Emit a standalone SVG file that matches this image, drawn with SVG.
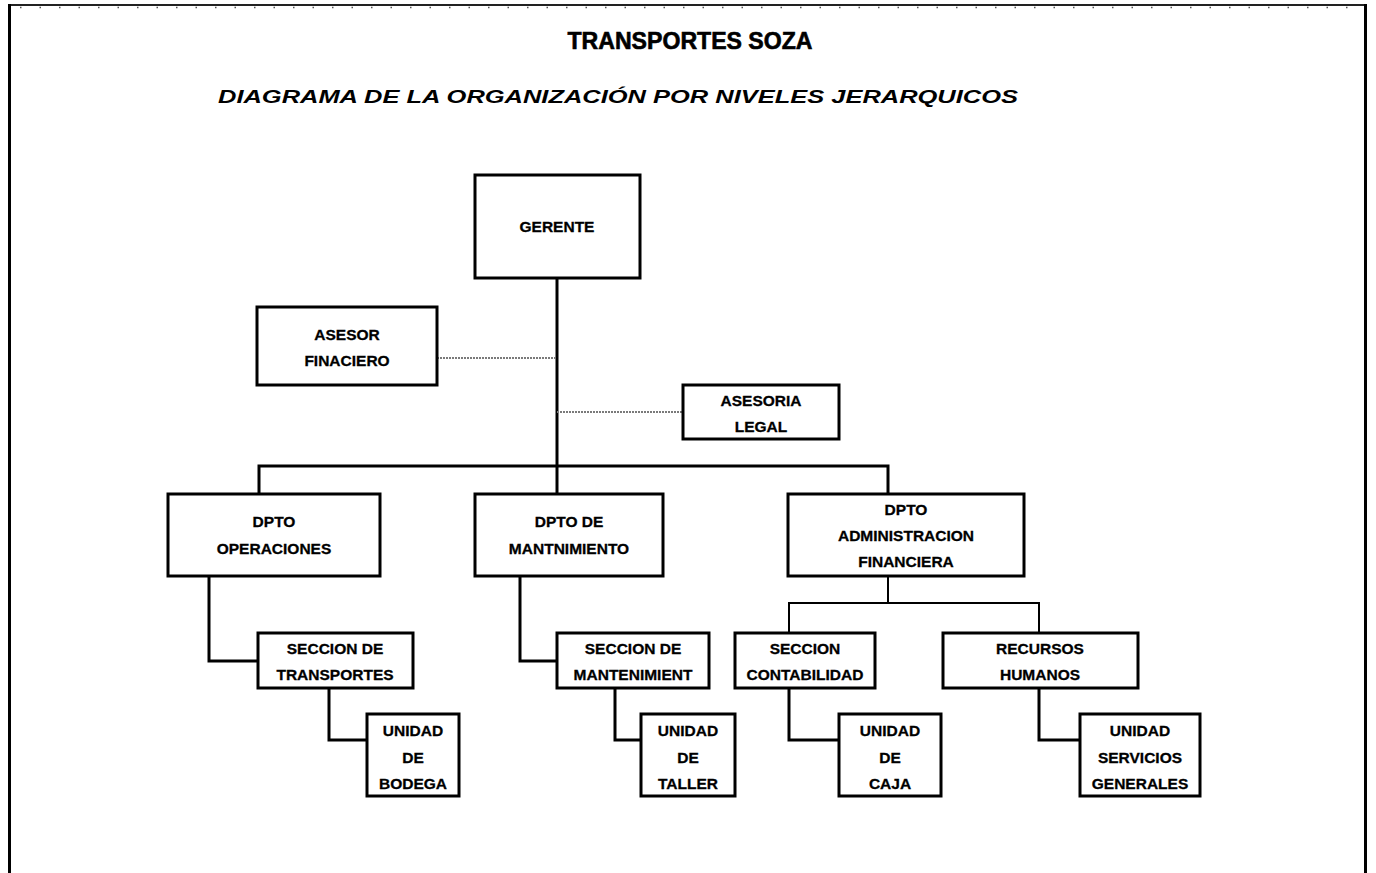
<svg xmlns="http://www.w3.org/2000/svg" width="1376" height="873" viewBox="0 0 1376 873">
<defs>
<style>
.box{fill:#fff;stroke:#000;stroke-width:3}
.t{font-family:"Liberation Sans",Arial,sans-serif;font-weight:bold;font-size:15.5px;text-anchor:middle;fill:#000;stroke:#000;stroke-width:0.3}
.c{fill:none;stroke:#000;stroke-width:3}
.c2{fill:none;stroke:#000;stroke-width:2}
.d{fill:none;stroke:#7a7a7a;stroke-width:2;stroke-dasharray:2 1}
</style>
</defs>
<rect width="1376" height="873" fill="#fff"/>
<g id="frame">
<line x1="8" y1="5" x2="1367" y2="5" stroke="#222" stroke-width="2"/>
<line x1="20" y1="7.5" x2="1350" y2="7.5" stroke="#555" stroke-width="1.5" stroke-dasharray="1.5 18"/>
<line x1="9.5" y1="4" x2="9.5" y2="873" stroke="#000" stroke-width="3"/>
<line x1="1365.5" y1="4" x2="1365.5" y2="873" stroke="#000" stroke-width="3"/>
</g>
<g id="titles">
<text x="690" y="49" font-family="'Liberation Sans',Arial,sans-serif" font-weight="bold" font-size="23" text-anchor="middle" stroke="#000" stroke-width="0.6" textLength="245" lengthAdjust="spacingAndGlyphs">TRANSPORTES SOZA</text>
<text x="618" y="103" font-family="'Liberation Sans',Arial,sans-serif" font-weight="bold" font-style="italic" font-size="17.5" text-anchor="middle" textLength="800" lengthAdjust="spacingAndGlyphs">DIAGRAMA DE LA ORGANIZACIÓN POR NIVELES JERARQUICOS</text>
</g>
<g id="connectors">
<path class="c" d="M557 278 V466"/>
<path class="c" d="M259 494 V466 H888 V494"/>
<path class="c" d="M557 466 V494"/>
<path class="d" d="M437 358 H557"/>
<path class="d" d="M557 412 H683"/>
<path class="c2" d="M888 576 V603"/>
<path class="c2" d="M789 633 V603 H1039 V633"/>
<path class="c" d="M209 576 V661 H258"/>
<path class="c" d="M329 688 V740 H367"/>
<path class="c" d="M520 576 V661 H557"/>
<path class="c" d="M615 688 V740 H641"/>
<path class="c" d="M789 688 V740 H839"/>
<path class="c" d="M1039 688 V740 H1080"/>
</g>
<g id="gerente"><rect class="box" x="475" y="175" width="165" height="103"/><text class="t" x="557" y="232">GERENTE</text></g>
<g id="asesor-financiero"><rect class="box" x="257" y="307" width="180" height="78"/><text class="t" x="347" y="340">ASESOR</text><text class="t" x="347" y="366">FINACIERO</text></g>
<g id="asesoria-legal"><rect class="box" x="683" y="385" width="156" height="54"/><text class="t" x="761" y="406">ASESORIA</text><text class="t" x="761" y="432">LEGAL</text></g>
<g id="dpto-operaciones"><rect class="box" x="168" y="494" width="212" height="82"/><text class="t" x="274" y="527">DPTO</text><text class="t" x="274" y="554">OPERACIONES</text></g>
<g id="dpto-mantenimiento"><rect class="box" x="475" y="494" width="188" height="82"/><text class="t" x="569" y="527">DPTO DE</text><text class="t" x="569" y="554">MANTNIMIENTO</text></g>
<g id="dpto-admin"><rect class="box" x="788" y="494" width="236" height="82"/><text class="t" x="906" y="515">DPTO</text><text class="t" x="906" y="541">ADMINISTRACION</text><text class="t" x="906" y="567">FINANCIERA</text></g>
<g id="seccion-transportes"><rect class="box" x="258" y="633" width="155" height="55"/><text class="t" x="335" y="654">SECCION DE</text><text class="t" x="335" y="680">TRANSPORTES</text></g>
<g id="seccion-mantenimiento"><rect class="box" x="557" y="633" width="152" height="55"/><text class="t" x="633" y="654">SECCION DE</text><text class="t" x="633" y="680">MANTENIMIENT</text></g>
<g id="seccion-contabilidad"><rect class="box" x="735" y="633" width="140" height="55"/><text class="t" x="805" y="654">SECCION</text><text class="t" x="805" y="680">CONTABILIDAD</text></g>
<g id="recursos-humanos"><rect class="box" x="943" y="633" width="195" height="55"/><text class="t" x="1040" y="654">RECURSOS</text><text class="t" x="1040" y="680">HUMANOS</text></g>
<g id="unidad-bodega"><rect class="box" x="367" y="714" width="92" height="82"/><text class="t" x="413" y="736">UNIDAD</text><text class="t" x="413" y="763">DE</text><text class="t" x="413" y="789">BODEGA</text></g>
<g id="unidad-taller"><rect class="box" x="641" y="714" width="94" height="82"/><text class="t" x="688" y="736">UNIDAD</text><text class="t" x="688" y="763">DE</text><text class="t" x="688" y="789">TALLER</text></g>
<g id="unidad-caja"><rect class="box" x="839" y="714" width="102" height="82"/><text class="t" x="890" y="736">UNIDAD</text><text class="t" x="890" y="763">DE</text><text class="t" x="890" y="789">CAJA</text></g>
<g id="unidad-servicios"><rect class="box" x="1080" y="714" width="120" height="82"/><text class="t" x="1140" y="736">UNIDAD</text><text class="t" x="1140" y="763">SERVICIOS</text><text class="t" x="1140" y="789">GENERALES</text></g>
</svg>
